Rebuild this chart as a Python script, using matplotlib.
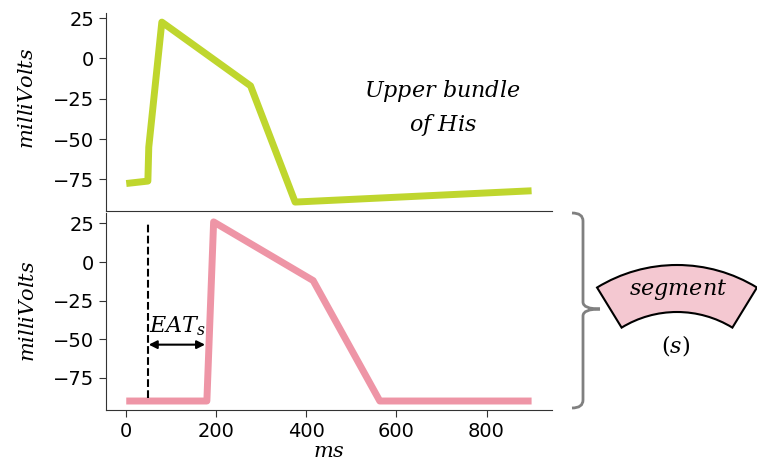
import matplotlib.pyplot as plt
from matplotlib.patches import Wedge, PathPatch
from matplotlib.path import Path

plt.rcParams['mathtext.fontset'] = 'dejavuserif'
plt.rcParams['font.size'] = 14

# upper bundle of His trace (ms, mV)
his_t = [0, 48, 50, 79, 276, 375, 900]
his_v = [-77.5, -76, -55, 22.5, -17, -89, -82]

# segment trace (ms, mV)
seg_t = [0, 179, 194, 415, 563, 900]
seg_v = [-90, -90, 26, -12, -90, -90]

stim_t = 48.5          # dashed marker
eat_start, eat_end = 50, 175
eat_y = -53.5
xticks = [0, 200, 400, 600, 800]
yticks = [-75, -50, -25, 0, 25]

green = '#bfd62e'
pink = '#ee95a6'

fig = plt.figure(figsize=(7.57, 4.68), dpi=100)
ax1 = fig.add_axes([0.140, 0.549, 0.589, 0.423])
ax2 = fig.add_axes([0.140, 0.124, 0.589, 0.421])

ax1.plot(his_t, his_v, color=green, lw=5, solid_capstyle='butt')
ax2.plot(seg_t, seg_v, color=pink, lw=5, solid_capstyle='butt')

for ax in (ax1, ax2):
    ax.spines['top'].set_visible(False)
    ax.spines['right'].set_visible(False)
    ax.spines['left'].set_color('#333333')
    ax.spines['bottom'].set_color('#333333')
    ax.set_yticks(yticks)
    ax.set_xticks(xticks)
    ax.set_ylabel('$milliVolts$', fontsize=15, labelpad=11)
    ax.tick_params(labelsize=14, length=5, color='#333333')
ax1.yaxis.set_label_coords(-0.155, 0.57)
ax1.tick_params(axis='x', bottom=False, labelbottom=False)
ax2.set_xlabel('$ms$', fontsize=15, labelpad=0)

ax1.text(0.755, 0.52, '$Upper\\ bundle$\n$of\\ His$', transform=ax1.transAxes,
         ha='center', va='center', fontsize=16, linespacing=1.45)

# EAT marker
ax2.plot([stim_t, stim_t], [-88, 25], color='black', ls='--', lw=1.5)
ax2.annotate('', xy=(eat_start, eat_y), xytext=(eat_end, eat_y),
             arrowprops=dict(arrowstyle='<|-|>', color='black', lw=1.5,
                             shrinkA=0, shrinkB=0, mutation_scale=12))
ax2.text(eat_start, eat_y + 4, '$EAT_s$', ha='left', va='bottom', fontsize=16)

# overlay in pixel coordinates for bracket and segment shape
ov = fig.add_axes([0, 0, 1, 1])
ov.set_xlim(0, 757)
ov.set_ylim(468, 0)
ov.axis('off')
ov.patch.set_alpha(0)

verts = [(572, 213), (583, 213), (583, 221), (583, 302), (583, 309), (600, 309),
         (600, 309), (583, 309), (583, 316), (583, 400), (583, 408), (572, 408)]
codes = [Path.MOVETO, Path.CURVE3, Path.CURVE3, Path.LINETO, Path.CURVE3, Path.CURVE3,
         Path.MOVETO, Path.CURVE3, Path.CURVE3, Path.LINETO, Path.CURVE3, Path.CURVE3]
ov.add_patch(PathPatch(Path(verts, codes), fill=False, edgecolor='#808080', lw=2))

ov.add_patch(Wedge((677, 418), 153, 238.5, 301.5, width=47,
                   facecolor='#f4c8d1', edgecolor='black', lw=1.5))
ov.text(678, 290, '$segment$', ha='center', va='center', fontsize=16)
ov.text(676, 346, '$(s)$', ha='center', va='center', fontsize=16)

fig.savefig('out.png', dpi=100)
